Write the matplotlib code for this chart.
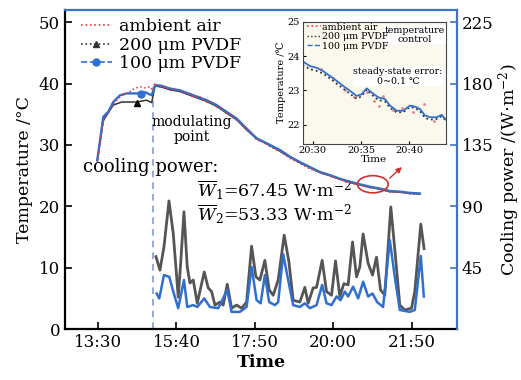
import matplotlib.pyplot as plt
from matplotlib.lines import Line2D
from matplotlib.patches import Ellipse

plt.rcParams['font.family'] = ['DejaVu Serif', 'DejaVu Sans']
plt.rcParams['mathtext.fontset'] = 'dejavuserif'

# x positions in hours after 13:30 (axis ticks are evenly spaced in the source)
tick_pos = [0, 2.1667, 4.3333, 6.5, 8.6667]
tick_labels = ["13:30", "15:40", "17:50", "20:00", "21:50"]
t_mod = 1.518

# temperature curves (deg C)
t_blue = [-0.02, 0.146, 0.284, 0.422, 0.607, 0.792, 1.068, 1.297, 1.482,
          1.573, 1.711, 1.987, 2.263, 2.630, 3.000, 3.276, 3.550, 3.830, 4.100,
          4.380, 4.750, 5.020, 5.300, 5.580, 5.850, 6.130, 6.400, 6.680, 6.960,
          7.230, 7.510, 7.780, 8.060, 8.340, 8.610, 8.890]
T_blue = [27.5, 34.6, 35.4, 37.0, 38.1, 38.4, 38.4, 38.6, 38.1,
          39.7, 39.7, 39.2, 38.9, 38.1, 37.3, 36.5, 35.4, 34.3, 32.7,
          31.1, 30.0, 29.2, 28.1, 27.2, 26.4, 25.6, 25.1, 24.5, 24.0,
          23.6, 23.2, 22.9, 22.5, 22.4, 22.2, 22.1]
t_grey = [-0.02, 0.146, 0.422, 0.654, 1.068, 1.344, 1.482,
          1.573, 1.711, 1.987, 2.263, 2.630, 3.000, 3.276, 3.550, 3.830, 4.100,
          4.380, 4.750, 5.020, 5.300, 5.580, 5.850, 6.130, 6.400, 6.680, 6.960,
          7.230, 7.510, 7.780, 8.060, 8.340, 8.610, 8.890]
T_grey = [27.5, 34.0, 36.5, 37.0, 37.0, 37.3, 36.9,
          39.6, 39.5, 39.0, 38.7, 37.9, 37.1, 36.3, 35.2, 34.1, 32.5,
          31.0, 29.9, 29.0, 28.0, 27.1, 26.3, 25.5, 25.0, 24.4, 23.9,
          23.5, 23.1, 22.8, 22.4, 22.3, 22.1, 22.0]
t_red = [-0.02, 0.146, 0.22, 0.33, 0.45, 0.56, 0.70, 0.88, 1.00, 1.16, 1.30, 1.44, 1.50,
         1.573, 1.711, 1.85, 1.987, 2.12, 2.263, 2.45, 2.630, 2.80, 3.000, 3.14, 3.276,
         3.41, 3.550, 3.69, 3.830, 3.96, 4.100, 4.24, 4.380, 4.56, 4.750, 5.020, 5.300,
         5.580, 5.850, 6.130, 6.400, 6.680, 6.960, 7.230, 7.510, 7.780, 8.060, 8.340,
         8.610, 8.890]
T_red = [27.3, 33.8, 34.6, 35.7, 36.8, 37.6, 38.2, 38.7, 39.2, 39.5, 39.3, 39.5, 38.9,
         40.1, 39.4, 39.6, 38.9, 39.2, 38.6, 38.5, 37.8, 37.9, 37.0, 37.0, 36.2,
         36.0, 35.1, 34.9, 34.0, 33.5, 32.4, 32.0, 30.8, 30.5, 29.7, 29.0, 27.8,
         27.0, 26.1, 25.5, 24.9, 24.4, 23.8, 23.5, 23.0, 22.8, 22.3, 22.3,
         22.0, 22.0]

# cooling power (W/m2)
tp_grey = [1.601, 1.711, 1.822, 1.960, 2.078, 2.216, 2.283, 2.374, 2.465, 2.539,
           2.630, 2.741, 2.934, 3.044, 3.138, 3.229, 3.367, 3.458, 3.569, 3.690,
           3.828, 3.966, 4.104, 4.242, 4.361, 4.471, 4.609, 4.728, 4.838, 4.976,
           5.142, 5.272, 5.390, 5.575, 5.713, 5.804, 5.942, 6.036, 6.191, 6.312,
           6.450, 6.560, 6.679, 6.790, 6.908, 7.030, 7.140, 7.231, 7.322, 7.460,
           7.582, 7.692, 7.803, 7.921, 8.087, 8.225, 8.335, 8.473, 8.658, 8.749,
           8.915, 9.006]
P_grey = [53.1, 43.2, 60.3, 94.0, 70.2, 23.4, 48.2, 86.0, 45.5, 33.8,
          36.0, 18.9, 41.9, 30.2, 27.5, 17.6, 19.8, 17.6, 32.9, 15.3,
          17.6, 15.3, 19.8, 60.8, 38.3, 36.0, 50.4, 28.8, 24.8, 36.0,
          68.9, 49.5, 21.2, 19.8, 30.6, 18.9, 30.2, 30.6, 50.4, 27.5,
          24.8, 50.0, 23.9, 33.3, 32.4, 63.9, 38.3, 45.5, 69.8, 48.2,
          39.6, 52.7, 28.8, 24.8, 89.6, 50.4, 17.6, 14.0, 15.3, 27.5,
          77.0, 59.0]
tp_blue = [1.620, 1.692, 1.822, 1.968, 2.078, 2.216, 2.374, 2.465, 2.630, 2.741,
           2.934, 3.091, 3.320, 3.569, 3.690, 3.919, 4.104, 4.242, 4.380, 4.491,
           4.609, 4.728, 4.885, 4.976, 5.114, 5.252, 5.390, 5.575, 5.713, 5.851,
           6.036, 6.191, 6.312, 6.450, 6.588, 6.698, 6.817, 6.908, 7.046, 7.184,
           7.322, 7.460, 7.582, 7.709, 7.874, 8.059, 8.197, 8.335, 8.611, 8.749,
           8.915, 8.998]
P_blue = [26.1, 22.5, 39.6, 38.3, 27.5, 15.3, 36.0, 16.2, 17.6, 16.2,
          22.5, 16.2, 15.3, 28.8, 12.6, 12.6, 16.2, 45.5, 21.2, 18.9,
          39.6, 19.8, 17.6, 19.8, 54.9, 36.0, 17.6, 16.2, 18.9, 15.3,
          17.6, 32.4, 18.9, 17.6, 23.9, 21.2, 27.5, 23.9, 31.1, 22.5,
          34.7, 23.9, 26.1, 19.8, 16.2, 65.3, 38.3, 14.0, 12.6, 14.0,
          53.6, 23.9]

# inset: minutes after 20:30
m_ins = [-1.035, -0.28, 0.414, 1.097, 1.79, 2.484, 3.168, 3.861, 4.555, 5.072,
         5.59, 6.108, 6.79, 7.485, 8.0, 8.696, 9.379, 10.07, 10.59, 11.11,
         11.63, 12.15, 12.84, 13.35, 13.8]
Ti_blue = [23.85, 23.71, 23.66, 23.56, 23.42, 23.28, 23.13, 22.99, 22.84, 22.89,
           23.06, 22.94, 22.80, 22.75, 22.56, 22.41, 22.41, 22.56, 22.53, 22.46,
           22.27, 22.22, 22.22, 22.29, 22.15]
Ti_grey = [23.74, 23.62, 23.57, 23.49, 23.35, 23.20, 23.05, 22.90, 22.76, 22.83,
           23.03, 22.88, 22.72, 22.68, 22.50, 22.36, 22.37, 22.52, 22.49, 22.40,
           22.20, 22.15, 22.17, 22.25, 22.12]
mi_red = [0.9, 2.1, 3.4, 4.3, 5.6, 6.4, 6.9, 7.3, 8.3, 9.2, 10.4, 11.5, 12.6]
Ti_red = [23.62, 23.35, 23.02, 22.80, 22.95, 22.70, 22.55, 22.85, 22.42, 22.50,
          22.38, 22.60, 22.12]

blue = '#2f6fce'
grey = '#555555'
red = '#e83a3a'
spine_blue = '#3b74cc'

fig = plt.figure(figsize=(5.21, 3.80), dpi=100)
ax = fig.add_axes([0.1248, 0.134, 0.752, 0.839])
ax2 = ax.twinx()

ax.plot(t_grey, T_grey, color='#333333', lw=1.1, zorder=4)
ax.plot(t_blue, T_blue, color=blue, lw=1.7, zorder=5)
ax.plot(t_red, T_red, ls=':', color=red, lw=1.1, zorder=6)
ax.plot([1.068], [36.9], marker='^', color='black', ms=5, zorder=7)
ax.plot([1.2], [38.3], marker='o', color=blue, ms=5, zorder=7)
ax.plot([t_mod, t_mod], [0, 39], ls=(0, (4, 3)), color='#7b9ddf', lw=1.2)

ax2.plot(tp_grey, P_grey, color=grey, lw=2.0)
ax2.plot(tp_blue, P_blue, color=blue, lw=1.8)

ax.set_xlim(-0.911, 9.91)
ax.set_ylim(0, 51.95)
ax2.set_ylim(0, 233.8)
ax.set_xticks(tick_pos)
ax.set_xticklabels(tick_labels)
ax.set_yticks([0, 10, 20, 30, 40, 50])
ax2.set_yticks([45, 90, 135, 180, 225])
ax.tick_params(direction='in', length=5, width=1.2, labelsize=12)
ax2.tick_params(direction='in', length=5, width=1.2, labelsize=12, color=spine_blue)

for s in ['left', 'bottom']:
    ax.spines[s].set_linewidth(1.6)
ax.spines['top'].set_color(spine_blue)
ax.spines['top'].set_linewidth(1.6)
ax.spines['right'].set_visible(False)
for s in ['left', 'bottom', 'top']:
    ax2.spines[s].set_visible(False)
ax2.spines['right'].set_color(spine_blue)
ax2.spines['right'].set_linewidth(1.6)

ax.set_xlabel('Time', fontsize=12.5, fontweight='bold', labelpad=2)
ax.set_ylabel('Temperature /°C', fontsize=12.5, labelpad=4)
ax2.set_ylabel(r'Cooling power /(W$\cdot$m$^{-2}$)', fontsize=12.5, labelpad=2)

handles = [Line2D([], [], ls=':', color=red, lw=1.2),
           Line2D([], [], ls=':', color='#333333', lw=1.2, marker='^', ms=5),
           Line2D([], [], ls='--', color=blue, lw=1.2, marker='o', ms=5)]
ax.legend(handles, ['ambient air', '200 μm PVDF', '100 μm PVDF'],
          loc='upper left', bbox_to_anchor=(0.0, 1.025), frameon=False,
          fontsize=12.5, handlelength=1.8, handletextpad=0.4, labelspacing=0.1)

ax.text(2.59, 32.5, 'modulating\npoint', ha='center', va='center', fontsize=10,
        linespacing=1.1)
ax.text(-0.414, 26.4, 'cooling power:', ha='left', va='center', fontsize=13)
ax.text(2.73, 22.5, r'$\overline{W}_{1}$=67.45 W$\cdot$m$^{-2}$', ha='left',
        va='center', fontsize=12.5)
ax.text(2.73, 18.6, r'$\overline{W}_{2}$=53.33 W$\cdot$m$^{-2}$', ha='left',
        va='center', fontsize=12.5)

ax.add_patch(Ellipse((7.59, 23.6), 0.85, 2.8, fill=False, color='#d03030', lw=1.2,
                     zorder=8))
ax.annotate('', xy=(8.45, 26.7), xytext=(8.0, 24.3),
            arrowprops=dict(arrowstyle='-|>', color='#d03030', lw=1, mutation_scale=8))

# inset
axi = fig.add_axes([0.581, 0.6218, 0.275, 0.321], zorder=10)
axi.set_facecolor('#fbf8ee')
axi.plot(mi_red, Ti_red, ls='none', marker='.', ms=2, color='#f08080')
axi.plot(m_ins, Ti_grey, ls=':', color='#333333', lw=1.3)
axi.plot(m_ins, Ti_blue, color=blue, lw=1.3)
axi.set_xlim(-1.03, 13.8)
axi.set_ylim(21.45, 25)
axi.set_xticks([0, 5, 10])
axi.set_xticklabels(['20:30', '20:35', '20:40'])
axi.set_yticks([22, 23, 24, 25])
axi.tick_params(direction='in', length=2.5, width=0.8, labelsize=7, pad=2)
for s in axi.spines.values():
    s.set_linewidth(0.8)
    s.set_color('#444444')
axi.set_xlabel('Time', fontsize=7.5, labelpad=0)
axi.set_ylabel('Temperature /℃', fontsize=7, labelpad=1)
hi = [Line2D([], [], ls=':', color=red, lw=1.2),
      Line2D([], [], ls=':', color='#333333', lw=1.0),
      Line2D([], [], ls='--', color=blue, lw=1.0)]
axi.legend(hi, ['ambient air', '200 μm PVDF', '100 μm PVDF'], loc='upper left',
           bbox_to_anchor=(0.0, 1.03), frameon=False, fontsize=6.8, handlelength=1.4,
           handletextpad=0.1, labelspacing=0.05, borderaxespad=0.1)
axi.text(10.6, 24.62, 'temperature\ncontrol', ha='center', va='center', fontsize=6.8,
         linespacing=1.0, bbox=dict(fc='white', ec='none', pad=0.5))
axi.text(8.83, 23.41, 'steady-state error:\n0~0.1 ℃', ha='center', va='center',
         fontsize=6.8, linespacing=1.1, bbox=dict(fc='white', ec='none', pad=0.5))

fig.savefig('out.png', dpi=100)
